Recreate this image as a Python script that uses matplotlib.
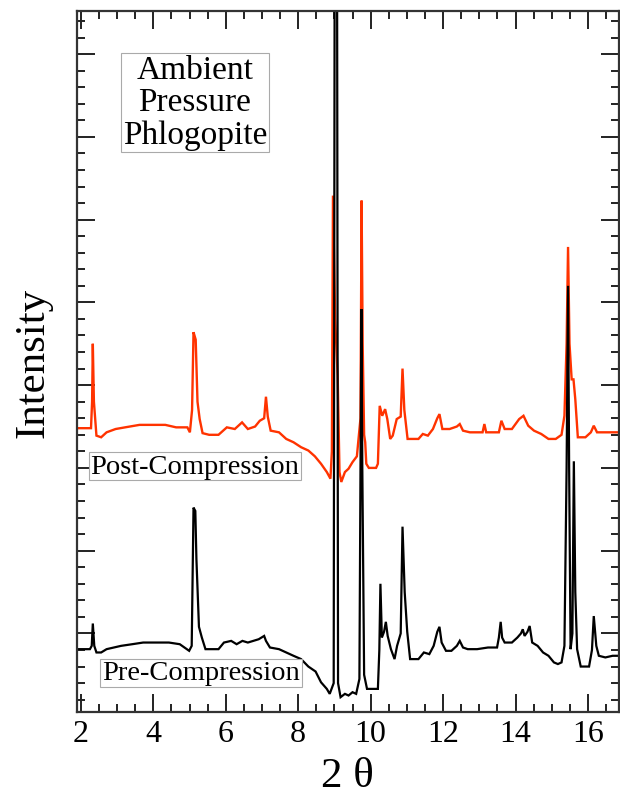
import matplotlib
matplotlib.use("Agg")
import matplotlib.pyplot as plt
from matplotlib.ticker import MultipleLocator, NullFormatter

plt.rcParams['font.family'] = ['Liberation Serif', 'DejaVu Serif']

# Pre-compression pattern (black)
pre_theta = [1.90, 2.25, 2.30, 2.33, 2.37, 2.43, 2.56, 2.71, 2.91, 3.11, 3.42, 3.72, 4.03, 4.43,
             4.73, 4.99, 5.06, 5.11, 5.16, 5.19, 5.26, 5.34, 5.44, 5.60, 5.80, 5.95, 6.15, 6.30,
             6.46, 6.61, 6.76, 6.91, 7.06, 7.11, 7.22, 7.47, 7.67, 7.87, 8.08, 8.28, 8.48, 8.63,
             8.79, 8.87, 8.98, 9.04, 9.10, 9.17, 9.29, 9.39, 9.50, 9.60, 9.69, 9.72,
             9.745, 9.77, 9.82, 9.90, 10.20, 10.24, 10.27, 10.31, 10.37, 10.42, 10.47, 10.56, 10.66,
             10.73, 10.83, 10.88, 10.94, 11.01, 11.09, 11.32, 11.47, 11.62, 11.74, 11.84, 11.90,
             11.96, 12.08, 12.23, 12.38, 12.46, 12.55, 12.68, 12.94, 13.24, 13.49, 13.54, 13.59,
             13.63, 13.70, 13.90, 14.05, 14.15, 14.20, 14.25, 14.33, 14.39, 14.46, 14.61, 14.76,
             14.91, 15.06, 15.17, 15.27, 15.35, 15.41, 15.45, 15.48, 15.52, 15.57, 15.61, 15.65,
             15.70, 15.80, 16.03, 16.11, 16.16, 16.23, 16.30, 16.48, 16.68, 16.90]
pre_intensity = [0.81, 0.81, 0.85, 1.12, 0.85, 0.77, 0.77, 0.81, 0.83, 0.85, 0.87, 0.89, 0.89, 0.89,
                 0.87, 0.79, 0.85, 2.52, 2.48, 1.90, 1.08, 0.95, 0.81, 0.81, 0.81, 0.89, 0.91, 0.87,
                 0.91, 0.89, 0.91, 0.93, 0.97, 0.91, 0.83, 0.81, 0.77, 0.73, 0.69, 0.60, 0.54, 0.41,
                 0.33, 0.27, 0.40, 20.0, 0.40, 0.23, 0.27, 0.25, 0.29, 0.27, 0.45, 3.00,
                 4.92, 3.00, 0.50, 0.33, 0.33, 0.80, 1.60, 0.95, 1.02, 1.14, 0.97, 0.81, 0.69,
                 0.85, 1.00, 2.29, 1.50, 1.02, 0.69, 0.69, 0.77, 0.75, 0.85, 1.02, 1.08,
                 0.89, 0.79, 0.79, 0.85, 0.91, 0.83, 0.81, 0.81, 0.83, 0.83, 0.95, 1.14,
                 0.95, 0.89, 0.89, 0.95, 1.00, 1.05, 0.97, 1.02, 1.09, 0.89, 0.85, 0.77,
                 0.73, 0.65, 0.63, 0.65, 0.85, 3.00, 5.20, 3.00, 0.81, 1.00, 3.08, 1.50,
                 0.81, 0.60, 0.60, 0.80, 1.21, 0.85, 0.73, 0.71, 0.73, 0.73]

# Post-compression pattern (red)
post_theta = [1.90, 2.28, 2.31, 2.33, 2.36, 2.43, 2.56, 2.71, 2.96, 3.22, 3.62, 4.33, 4.63, 4.94,
              5.01, 5.07, 5.11, 5.17, 5.22, 5.28, 5.36, 5.54, 5.80, 6.03, 6.25, 6.45, 6.61, 6.81,
              6.94, 7.06, 7.11, 7.16, 7.24, 7.47, 7.67, 7.87, 8.08, 8.28, 8.46, 8.63, 8.79, 8.89,
              8.93, 8.96, 9.02, 9.09, 9.14, 9.19, 9.29, 9.39, 9.50, 9.62, 9.72, 9.75, 9.78, 9.82,
              9.85, 9.88, 9.95, 10.15, 10.20, 10.25, 10.32, 10.40, 10.46, 10.54, 10.61, 10.72,
              10.83, 10.88, 10.93, 11.02, 11.32, 11.44, 11.58, 11.72, 11.84, 11.90, 11.98, 12.18,
              12.38, 12.46, 12.55, 12.74, 13.09, 13.14, 13.19, 13.54, 13.61, 13.70, 13.90, 14.10,
              14.22, 14.35, 14.51, 14.71, 14.91, 15.11, 15.27, 15.35, 15.41, 15.45, 15.49, 15.55,
              15.60, 15.65, 15.72, 15.93, 16.08, 16.16, 16.25, 16.48, 16.90]
post_intensity = [3.48, 3.48, 3.80, 4.50, 3.80, 3.39, 3.37, 3.43, 3.47, 3.49, 3.52, 3.52, 3.49, 3.49,
                  3.43, 3.70, 4.64, 4.55, 3.80, 3.59, 3.42, 3.40, 3.40, 3.49, 3.47, 3.55, 3.47, 3.50,
                  3.57, 3.60, 3.86, 3.62, 3.45, 3.43, 3.35, 3.31, 3.25, 3.21, 3.14, 3.05, 2.95, 2.87,
                  3.20, 6.29, 4.80, 4.11, 2.95, 2.83, 2.95, 2.99, 3.07, 3.14, 3.60, 6.23, 4.50, 3.40,
                  3.31, 3.05, 3.00, 3.00, 3.05, 3.75, 3.63, 3.71, 3.59, 3.35, 3.39, 3.59,
                  3.62, 4.20, 3.70, 3.35, 3.35, 3.41, 3.39, 3.47, 3.60, 3.65, 3.47, 3.47,
                  3.50, 3.53, 3.45, 3.43, 3.43, 3.53, 3.43, 3.43, 3.57, 3.47, 3.47, 3.59,
                  3.63, 3.51, 3.45, 3.41, 3.35, 3.35, 3.40, 3.63, 4.50, 5.67, 4.50, 4.07,
                  4.07, 3.83, 3.37, 3.37, 3.43, 3.51, 3.43, 3.43, 3.43]

x_ticks = [2, 4, 6, 8, 10, 12, 14, 16]
title_text = "Ambient\nPressure\nPhlogopite"
post_label = "Post-Compression"
pre_label = "Pre-Compression"

fig = plt.figure(figsize=(6.2, 8.03), dpi=100)
ax = fig.add_axes([0.124, 0.112, 0.874, 0.873])

ax.plot(post_theta, post_intensity, color='#ff3300', lw=1.7, solid_joinstyle='miter')
ax.plot(pre_theta, pre_intensity, color='black', lw=1.6, solid_joinstyle='miter')

ax.set_xlim(1.89, 16.85)
ax.set_ylim(0.05, 8.52)

ax.xaxis.set_minor_locator(MultipleLocator(0.5))
ax.yaxis.set_major_locator(MultipleLocator(1))
ax.yaxis.set_minor_locator(MultipleLocator(0.2))
ax.set_xticks(x_ticks)
ax.yaxis.set_major_formatter(NullFormatter())

ax.tick_params(which='both', direction='in', top=True, right=True, width=1.4, colors='#222222')
ax.tick_params(which='major', length=13)
ax.tick_params(which='minor', length=6)
ax.tick_params(axis='x', labelsize=23, pad=5, labelcolor='black')
for s in ax.spines.values():
    s.set_linewidth(1.6)
    s.set_color('#333333')

ax.set_xlabel("2 θ", fontsize=31, labelpad=6)
ax.set_ylabel("Intensity", fontsize=31, labelpad=14)

box = dict(boxstyle='square,pad=0.06', facecolor='white', edgecolor='#aaaaaa', linewidth=0.8)
ax.text(0.218, 0.870, title_text, transform=ax.transAxes, ha='center', va='center',
        fontsize=24, linespacing=1.07, bbox=box)
ax.text(0.218, 0.351, post_label, transform=ax.transAxes, ha='center', va='center',
        fontsize=20.5, bbox=box)
ax.text(0.229, 0.056, pre_label, transform=ax.transAxes, ha='center', va='center',
        fontsize=20.5, bbox=box)

fig.savefig("out.png", dpi=100)
